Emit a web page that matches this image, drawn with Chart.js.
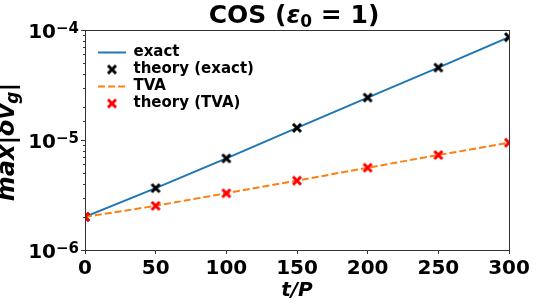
<!DOCTYPE html>
<html>
<head>
<meta charset="utf-8">
<script src="https://cdn.jsdelivr.net/npm/chart.js@4.4.1/dist/chart.umd.min.js"></script>
<style>
  html, body { margin: 0; padding: 0; background: #fff; }
  #wrap { width: 536px; height: 308px; }
</style>
</head>
<body>
<div id="wrap"><canvas id="chart" width="536" height="308"></canvas></div>
<script>
// --- data ---
const periods = [0, 50, 100, 150, 200, 250, 300];
const exactVals = [2.0e-6, 3.65e-6, 6.8e-6, 1.29e-5, 2.43e-5, 4.55e-5, 8.6e-5];
const theoryExactVals = [2.0e-6, 3.65e-6, 6.8e-6, 1.29e-5, 2.43e-5, 4.55e-5, 8.6e-5];
const tvaVals = [2.0e-6, 2.52e-6, 3.28e-6, 4.27e-6, 5.6e-6, 7.3e-6, 9.45e-6];
const theoryTvaVals = [2.0e-6, 2.52e-6, 3.28e-6, 4.27e-6, 5.6e-6, 7.3e-6, 9.45e-6];
const xTickStep = 50;
const yDecades = [1e-6, 1e-5, 1e-4];
const yExponents = ['\u22126', '\u22125', '\u22124'];

const FONT = "'DejaVu Sans', sans-serif";
Chart.defaults.font.family = FONT;
Chart.defaults.color = '#000';

const toPoints = vals => periods.map((p, i) => ({ x: p, y: vals[i] }));

// filled "X" marker like matplotlib's 'X'
function makeX(color) {
    const c = document.createElement('canvas');
    c.width = 12; c.height = 12;
    const g = c.getContext('2d');
    g.strokeStyle = color;
    g.lineWidth = 3;
    g.lineCap = 'butt';
    g.beginPath();
    g.moveTo(2, 2); g.lineTo(10, 10);
    g.moveTo(10, 2); g.lineTo(2, 10);
    g.stroke();
    return c;
}
const blackX = makeX('#000');
const redX = makeX('#ff0000');

// draw a run of [text, font, dy] pieces centred on cx
function drawRuns(ctx, runs, cx, baseY) {
    let total = 0;
    runs.forEach(r => { ctx.font = r[1]; r.w = ctx.measureText(r[0]).width; total += r.w; });
    let x = cx - total / 2;
    ctx.textAlign = 'left';
    ctx.textBaseline = 'alphabetic';
    runs.forEach(r => {
        ctx.font = r[1];
        ctx.fillText(r[0], x, baseY + r[2]);
        x += r.w;
    });
}

// spines, log ticks, superscript labels, titles
const decor = {
    id: 'decor',
    afterLayout(chart) {
        const a = chart.chartArea;
        const lg = chart.legend;
        const w = lg.right - lg.left, h = lg.bottom - lg.top;
        lg.left = a.left + 11;
        lg.top = a.top + 13;
        lg.right = lg.left + w;
        lg.bottom = lg.top + h;
    },
    afterDraw(chart) {
        const { ctx, chartArea: a, scales: { y } } = chart;
        ctx.save();
        ctx.strokeStyle = '#333';
        ctx.lineWidth = 1;
        ctx.strokeRect(Math.round(a.left) + 0.5, Math.round(a.top) + 0.5,
            Math.round(a.right - a.left), Math.round(a.bottom - a.top));

        // log ticks
        y.ticks.forEach(t => {
            if (t.value < y.min || t.value > y.max) return;
            const py = Math.round(y.getPixelForValue(t.value)) + 0.5;
            const len = t.major ? 4 : 2;
            ctx.beginPath();
            ctx.moveTo(a.left - len, py);
            ctx.lineTo(a.left, py);
            ctx.stroke();
        });

        // tick labels 10^n
        ctx.fillStyle = '#000';
        ctx.textAlign = 'right';
        ctx.textBaseline = 'alphabetic';
        const right = a.left - 6;
        yDecades.forEach((v, i) => {
            const py = y.getPixelForValue(v);
            ctx.font = 'bold 15px ' + FONT;
            const supW = ctx.measureText(yExponents[i]).width;
            ctx.fillText(yExponents[i], right, py + 3);
            ctx.font = 'bold 20px ' + FONT;
            ctx.fillText('10', right - supW, py + 8);
        });

        // title: COS (ε0 = 1)
        drawRuns(ctx, [
            ['COS (', 'bold 25px ' + FONT, 0],
            ['\u03b5', 'italic bold 25px ' + FONT, 0],
            ['0', 'bold 17px ' + FONT, 4],
            [' = 1)', 'bold 25px ' + FONT, 0]
        ], 294, 23);

        // y title: max|δv_g| (partly off the left edge, as in the figure)
        ctx.translate(14, 142);
        ctx.rotate(-Math.PI / 2);
        drawRuns(ctx, [
            ['max|\u03b4v', 'italic bold 24px ' + FONT, 0],
            ['g', 'italic bold 17px ' + FONT, 4],
            ['|', 'italic bold 24px ' + FONT, 0]
        ], 0, 0);
        ctx.restore();
    }
};

new Chart(document.getElementById('chart'), {
    type: 'line',
    data: {
        datasets: [
            {
                label: 'exact',
                data: toPoints(exactVals),
                borderColor: '#1f77b4',
                borderWidth: 2,
                pointRadius: 0,
                order: 3,
                clip: 0
            },
            {
                label: 'theory (exact)',
                data: toPoints(theoryExactVals),
                showLine: false,
                pointStyle: blackX,
                pointRadius: 5,
                order: 2,
                clip: 0
            },
            {
                label: 'TVA',
                data: toPoints(tvaVals),
                borderColor: '#ff7f0e',
                borderWidth: 2,
                borderDash: [7, 3],
                pointRadius: 0,
                order: 1,
                clip: 0
            },
            {
                label: 'theory (TVA)',
                data: toPoints(theoryTvaVals),
                showLine: false,
                pointStyle: redX,
                pointRadius: 5,
                order: 0,
                clip: 0
            }
        ]
    },
    options: {
        responsive: false,
        animation: false,
        devicePixelRatio: 1,
        layout: { padding: { left: 0, right: 27, top: 30, bottom: 0 } },
        scales: {
            x: {
                type: 'linear',
                min: 0,
                max: 300,
                afterFit: s => { s.height = 58; },
                ticks: {
                    stepSize: xTickStep,
                    autoSkip: false,
                    maxRotation: 0,
                    padding: 3,
                    color: '#000',
                    font: { size: 20, weight: 'bold' }
                },
                grid: { drawOnChartArea: false, drawTicks: true, tickLength: 4, color: '#333' },
                border: { display: false },
                title: {
                    display: true,
                    text: 't/P',
                    color: '#000',
                    font: { size: 20, weight: 'bold', style: 'italic' },
                    padding: { top: 0, bottom: 5 }
                }
            },
            y: {
                type: 'logarithmic',
                min: 1e-6,
                max: 1e-4,
                afterFit: s => { s.width = 85; },
                ticks: { display: false },
                grid: { display: false },
                border: { display: false }
            }
        },
        plugins: {
            title: { display: false },
            legend: {
                position: 'chartArea',
                align: 'start',
                labels: {
                    usePointStyle: true,
                    pointStyleWidth: 28,
                    padding: 2,
                    color: '#000',
                    font: { size: 15, weight: 'bold' },
                    sort: (a, b) => a.datasetIndex - b.datasetIndex,
                    generateLabels(chart) {
                        const items = Chart.defaults.plugins.legend.labels.generateLabels(chart);
                        items.forEach(it => {
                            const ds = chart.data.datasets[it.datasetIndex];
                            if (ds.showLine === false) {
                                it.pointStyle = ds.pointStyle;
                            } else {
                                it.pointStyle = 'line';
                                it.lineWidth = ds.borderWidth;
                                it.lineDash = ds.borderDash || [];
                                it.strokeStyle = ds.borderColor;
                            }
                        });
                        return items;
                    }
                }
            },
            tooltip: { enabled: false }
        }
    },
    plugins: [decor]
});
</script>
</body>
</html>
